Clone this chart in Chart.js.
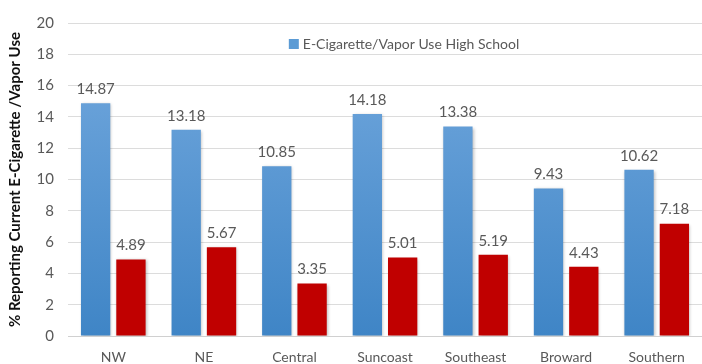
<!DOCTYPE html>
<html>
<head>
<meta charset="utf-8">
<script src="https://cdn.jsdelivr.net/npm/chart.js@4/dist/chart.umd.min.js"></script>
<style>
  html, body { margin: 0; padding: 0; background: #ffffff; }
  #wrap { width: 702px; height: 364px; position: relative; }
</style>
</head>
<body>
<div id="wrap"><canvas id="c"></canvas></div>
<script>
const regions = ['NW', 'NE', 'Central', 'Suncoast', 'Southeast', 'Broward', 'Southern'];
const highSchool = [14.87, 13.18, 10.85, 14.18, 13.38, 9.43, 10.62];
const middleSchool = [4.89, 5.67, 3.35, 5.01, 5.19, 4.43, 7.18];
const yTicks = [0, 2, 4, 6, 8, 10, 12, 14, 16, 18, 20];

const FONT = "Lato, 'Liberation Sans', sans-serif";
const TEXT_GREY = '#595959';

function blueGradient(ctx) {
  const area = ctx.chart.chartArea;
  if (!area) return '#5b9bd5';
  const g = ctx.chart.ctx.createLinearGradient(0, area.top, 0, area.bottom);
  g.addColorStop(0, '#75aadf');
  g.addColorStop(1, '#3f85c6');
  return g;
}

// Soft shadow behind the bars
const barShadow = {
  id: 'barShadow',
  beforeDatasetsDraw(chart) {
    const c = chart.ctx;
    c.save();
    c.shadowColor = 'rgba(0,0,0,0.25)';
    c.shadowBlur = 3;
    c.shadowOffsetX = 1;
    c.shadowOffsetY = 1;
  },
  afterDatasetsDraw(chart) {
    chart.ctx.restore();
  }
};

// Value labels above each bar
const valueLabels = {
  id: 'valueLabels',
  afterDatasetsDraw(chart) {
    const c = chart.ctx;
    c.save();
    c.font = "15px " + FONT;
    c.fillStyle = TEXT_GREY;
    c.textAlign = 'center';
    c.textBaseline = 'middle';
    chart.data.datasets.forEach((ds, i) => {
      chart.getDatasetMeta(i).data.forEach((bar, j) => {
        c.fillText(ds.data[j].toFixed(2), bar.x, bar.y - 14);
      });
    });
    c.restore();
  }
};

// Legend entry for the high-school series, drawn inside the plot near the top
const innerLegend = {
  id: 'innerLegend',
  afterDraw(chart) {
    const a = chart.chartArea;
    const c = chart.ctx;
    const ds = chart.data.datasets[0];
    c.save();
    c.font = "14px " + FONT;
    const textW = c.measureText(ds.label).width;
    const box = 10, gap = 4;
    const total = box + gap + textW;
    const cx = a.left + a.width * 0.53;
    const y = a.top + 21;
    const x0 = cx - total / 2;
    c.fillStyle = '#5b9bd5';
    c.fillRect(x0, y - box / 2, box, box);
    c.fillStyle = TEXT_GREY;
    c.textAlign = 'left';
    c.textBaseline = 'middle';
    c.fillText(ds.label, x0 + box + gap, y);
    c.restore();
  }
};

new Chart(document.getElementById('c'), {
  type: 'bar',
  data: {
    labels: regions,
    datasets: [
      {
        label: 'E-Cigarette/Vapor Use High School',
        data: highSchool,
        backgroundColor: blueGradient,
        categoryPercentage: 0.78,
        barPercentage: 0.83
      },
      {
        label: 'E-Cigarette/Vapor Use Middle School',
        data: middleSchool,
        backgroundColor: '#c00000',
        categoryPercentage: 0.78,
        barPercentage: 0.83
      }
    ]
  },
  options: {
    responsive: true,
    maintainAspectRatio: false,
    animation: false,
    devicePixelRatio: 1,
    layout: { padding: { top: 19, right: -5, bottom: 0, left: 0 } },
    plugins: {
      tooltip: { enabled: false },
      legend: { display: false }
    },
    scales: {
      x: {
        afterFit: (s) => { s.height = 28; },
        grid: { display: false, drawTicks: false },
        border: { color: '#d0d0d0', width: 1 },
        ticks: { color: TEXT_GREY, font: { family: FONT, size: 14 }, padding: 13 }
      },
      y: {
        min: 0,
        max: 20,
        afterBuildTicks: (axis) => { axis.ticks = yTicks.map(v => ({ value: v })); },
        afterFit: (s) => { s.width = 68; },
        grid: {
          color: (ctx) => ctx.tick && ctx.tick.value === 0 ? '#d0d0d0' : '#dcdcdc',
          drawTicks: false
        },
        border: { display: false },
        ticks: { color: TEXT_GREY, font: { family: FONT, size: 15 }, padding: 14 },
        title: {
          display: true,
          text: '% Reporting Current E-Cigarette /Vapor Use',
          color: '#111111',
          font: { family: FONT, size: 15, weight: 'bold' },
          padding: { top: 6, bottom: 0 }
        }
      }
    }
  },
  plugins: [barShadow, valueLabels, innerLegend]
});
</script>
</body>
</html>
